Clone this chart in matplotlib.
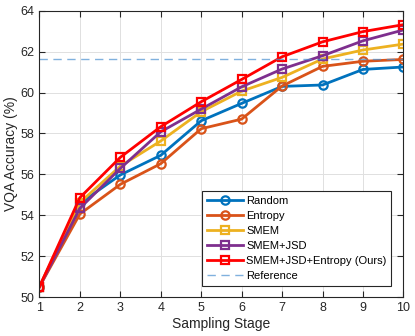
import numpy as np
import matplotlib.pyplot as plt

plt.rcParams['font.family'] = ['Liberation Sans', 'DejaVu Sans']

stages = [1, 2, 3, 4, 5, 6, 7, 8, 9, 10]
random_acc = [50.5, 54.58, 55.97, 56.93, 58.62, 59.47, 60.30, 60.37, 61.13, 61.25]
entropy_acc = [50.5, 54.06, 55.51, 56.52, 58.23, 58.70, 60.32, 61.28, 61.53, 61.62]
smem_acc = [50.5, 54.62, 56.40, 57.63, 59.06, 60.07, 60.74, 61.64, 62.08, 62.37]
smem_jsd_acc = [50.5, 54.34, 56.29, 58.08, 59.19, 60.28, 61.15, 61.80, 62.53, 63.06]
ours_acc = [50.5, 54.86, 56.83, 58.33, 59.55, 60.64, 61.75, 62.48, 62.98, 63.32]
reference_acc = 61.62

labels = ['Random', 'Entropy', 'SMEM', 'SMEM+JSD', 'SMEM+JSD+Entropy (Ours)']
series = [random_acc, entropy_acc, smem_acc, smem_jsd_acc, ours_acc]
colors = ['#0072BD', '#D95319', '#EDB120', '#7E2F8E', '#FF0000']
markers = ['o', 'o', 's', 's', 's']

fig = plt.figure(figsize=(4.15, 3.36), dpi=100)
ax = fig.add_axes([0.095, 0.116, 0.877, 0.852])

for vals, lab, c, m in zip(series, labels, colors, markers):
    ax.plot(stages, vals, color=c, marker=m, lw=2, ms=6 if m == 'o' else 5.5,
            mfc='none', mew=1.6, label=lab)
ax.axhline(reference_acc, color='#4a90d0', lw=1, ls=(0, (6, 4)), alpha=0.7,
           label='Reference')

ax.set_xlim(1, 10)
ax.set_ylim(50, 64)
ax.set_xticks(stages)
ax.set_yticks(np.arange(50, 65, 2))
ax.grid(True, color='#e0e0e0', lw=0.7)
ax.set_axisbelow(True)
ax.tick_params(direction='in', top=True, right=True, labelsize=9,
               colors='#262626', length=4)
for s in ax.spines.values():
    s.set_color('#262626')
    s.set_linewidth(0.8)
ax.set_xlabel('Sampling Stage', fontsize=10, color='#262626', labelpad=2)
ax.set_ylabel('VQA Accuracy (%)', fontsize=10, color='#262626', labelpad=2)

leg = ax.legend(loc='lower right', fontsize=8, fancybox=False,
                edgecolor='#262626', framealpha=1, handlelength=3.2,
                labelspacing=0.45, borderpad=0.45, handletextpad=0.3,
                borderaxespad=0, bbox_to_anchor=(0.967, 0.04))
leg.get_frame().set_linewidth(0.8)

fig.savefig('out.png', dpi=100)
